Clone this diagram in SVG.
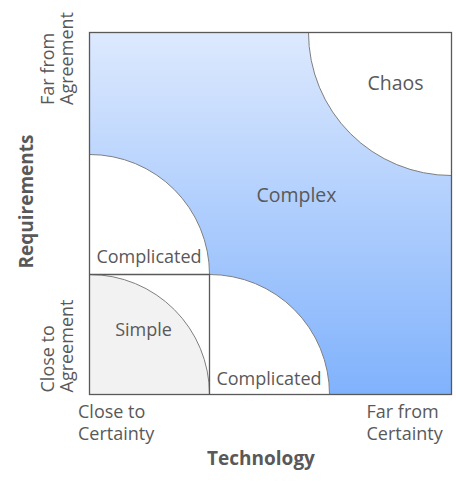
<svg xmlns="http://www.w3.org/2000/svg" width="456" height="482" viewBox="0 0 456 482">
  <defs>
    <linearGradient id="bg" x1="0" y1="0" x2="0" y2="1">
      <stop offset="0" stop-color="#dde9fe"/>
      <stop offset="1" stop-color="#80b2fc"/>
    </linearGradient>
    <style>
      text { font-family: "Open Sans", "Noto Sans", "Liberation Sans", sans-serif; fill: #595959; }
      .ax { font-size: 18px; }
      .rg { font-size: 18px; text-anchor: middle; }
      .rgl { font-size: 19.5px; text-anchor: middle; }
      .ti { font-size: 19px; font-weight: bold; text-anchor: middle; }
      .arc { stroke: #7f7f7f; stroke-width: 1; }
      .edge { fill: none; stroke: #595959; stroke-width: 1.3; }
    </style>
  </defs>
  <rect width="456" height="482" fill="#ffffff"/>

  <g id="complex">
    <rect x="89.5" y="32.5" width="362" height="362" fill="url(#bg)"/>
    <text class="rgl" x="296.5" y="202">Complex</text>
  </g>

  <g id="chaos">
    <path class="arc" d="M 308.5 32.5 A 143 143 0 0 0 451.5 175.5 L 451.5 32.5 Z" fill="#ffffff"/>
    <text class="rgl" x="395.5" y="90">Chaos</text>
  </g>

  <g id="complicated-requirements">
    <path class="arc" d="M 89.5 274.5 L 89.5 154.5 A 120 120 0 0 1 209.5 274.5 Z" fill="#ffffff"/>
    <text class="rg" x="149" y="262.5">Complicated</text>
  </g>

  <g id="simple">
    <rect x="89.5" y="274.5" width="120" height="120" fill="#ffffff"/>
    <path class="arc" d="M 89.5 394.5 L 89.5 274.5 A 120 120 0 0 1 209.5 394.5 Z" fill="#f2f2f2"/>
    <text class="rg" x="143.5" y="336">Simple</text>
  </g>

  <g id="complicated-technology">
    <path class="arc" d="M 209.5 394.5 L 209.5 274.5 A 120 120 0 0 1 329.5 394.5 Z" fill="#ffffff"/>
    <text class="rg" x="269" y="385">Complicated</text>
  </g>

  <g id="frame">
    <rect class="edge" x="89.5" y="32.5" width="362" height="362"/>
    <path class="edge" d="M 89.5 274.5 H 209.5 V 394.5"/>
  </g>

  <g id="connectors"></g>

  <g id="axis-technology">
    <text class="ax" x="78" y="417.7">Close to</text>
    <text class="ax" x="78" y="440.3">Certainty</text>
    <text class="ax" x="366.5" y="417.7">Far from</text>
    <text class="ax" x="366.5" y="440.3">Certainty</text>
    <text class="ti" x="261" y="465">Technology</text>
  </g>

  <g id="axis-requirements">
    <text class="ax" transform="translate(53.5,105) rotate(-90)">Far from</text>
    <text class="ax" transform="translate(72.5,105) rotate(-90)">Agreement</text>
    <text class="ax" transform="translate(53.5,392.5) rotate(-90)">Close to</text>
    <text class="ax" transform="translate(72.5,392.5) rotate(-90)">Agreement</text>
    <text class="ti" transform="translate(33,201.5) rotate(-90)">Requirements</text>
  </g>
</svg>
